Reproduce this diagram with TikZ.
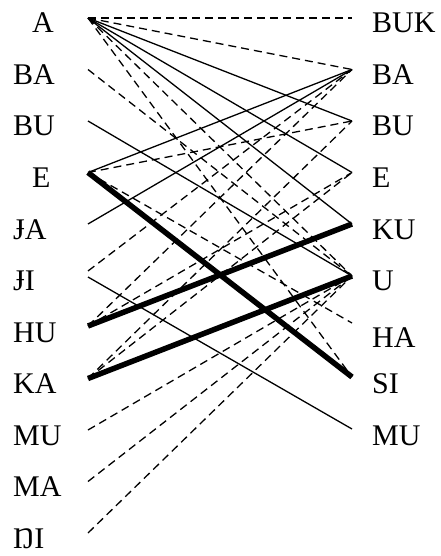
\documentclass[tikz,border=0pt]{standalone}
\usepackage{fontspec}
\setmainfont{Liberation Serif}
\usepackage{tikz}

\begin{document}
\begin{tikzpicture}[x=1pt, y=-1pt,
    lbl/.style={inner sep=0pt, anchor=base west, font=\fontsize{30}{36}\selectfont},
    weak/.style={line width=1.3pt, dash pattern=on 8pt off 5pt},
    plain/.style={line width=1.3pt},
    strong/.style={line width=5.5pt}]

    \useasboundingbox (0,0) rectangle (440,556);

    % left column
    \node[lbl] (l-A) at (32,33) {A};
    \node[lbl] (l-BA) at (13,84.5) {BA};
    \node[lbl] (l-BU) at (13,136) {BU};
    \node[lbl] (l-E) at (32,187.5) {E};
    \node[lbl] (l-JA) at (13,239) {ɈA};
    \node[lbl] (l-JI) at (13,290.5) {ɈI};
    \node[lbl] (l-HU) at (13,342) {HU};
    \node[lbl] (l-KA) at (13,393.5) {KA};
    \node[lbl] (l-MU) at (13,445) {MU};
    \node[lbl] (l-MA) at (13,496.5) {MA};
    \node[lbl] (l-NI) at (13,548) {ŊI};

    % right column
    \node[lbl] (r-BUK) at (372,33) {BUK};
    \node[lbl] (r-BA) at (372,84.5) {BA};
    \node[lbl] (r-BU) at (372,136) {BU};
    \node[lbl] (r-E) at (372,187.5) {E};
    \node[lbl] (r-KU) at (372,239) {KU};
    \node[lbl] (r-U) at (372,290.5) {U};
    \node[lbl] (r-HA) at (372,347) {HA};
    \node[lbl] (r-SI) at (372,393.5) {SI};
    \node[lbl] (r-MU) at (372,445) {MU};

    % line ends
    \coordinate (lA) at (88,18);
    \coordinate (lBA) at (88,69.5);
    \coordinate (lBU) at (88,121);
    \coordinate (lE) at (88,172.5);
    \coordinate (lJA) at (88,224);
    \coordinate (lJI) at (88,271);
    \coordinate (lJIb) at (88,277);
    \coordinate (lHU) at (88,326);
    \coordinate (lKA) at (88,378.5);
    \coordinate (lMU) at (88,430);
    \coordinate (lMA) at (88,481.5);
    \coordinate (lNI) at (88,533);

    \coordinate (rBUK) at (352,18);
    \coordinate (rBA) at (352,69.5);
    \coordinate (rBU) at (352,121);
    \coordinate (rE) at (352,172.5);
    \coordinate (rKU) at (352,224);
    \coordinate (rU) at (352,276);
    \coordinate (rHA) at (352,323);
    \coordinate (rSI) at (352,377);
    \coordinate (rMU) at (352,429);

    \path
    (lA) edge[weak] (rBUK)
    (lA) edge[weak] (rBA)
    (lA) edge[weak] (rU)
    (lA) edge[weak] (rSI)
    (lBA) edge[weak] (rU)
    (lE) edge[weak] (rBU)
    (lE) edge[weak] (rHA)
    (lJI) edge[weak] (rBA)
    (lHU) edge[weak] (rBA)
    (lHU) edge[weak] (rE)
    (lKA) edge[weak] (rBU)
    (lKA) edge[weak] (rE)
    (lMU) edge[weak] (rU)
    (lMA) edge[weak] (rU)
    (lNI) edge[weak] (rU);

    \path
    (lA) edge[plain] (rBU)
    (lA) edge[plain] (rE)
    (lA) edge[plain] (rKU)
    (lBU) edge[plain] (rU)
    (lE) edge[plain] (rBA)
    (lJA) edge[plain] (rBA)
    (lJIb) edge[plain] (rMU);

    \path
    (lE) edge[strong] (rSI)
    (lHU) edge[strong] (rKU)
    (lKA) edge[strong] (rU);
\end{tikzpicture}
\end{document}
